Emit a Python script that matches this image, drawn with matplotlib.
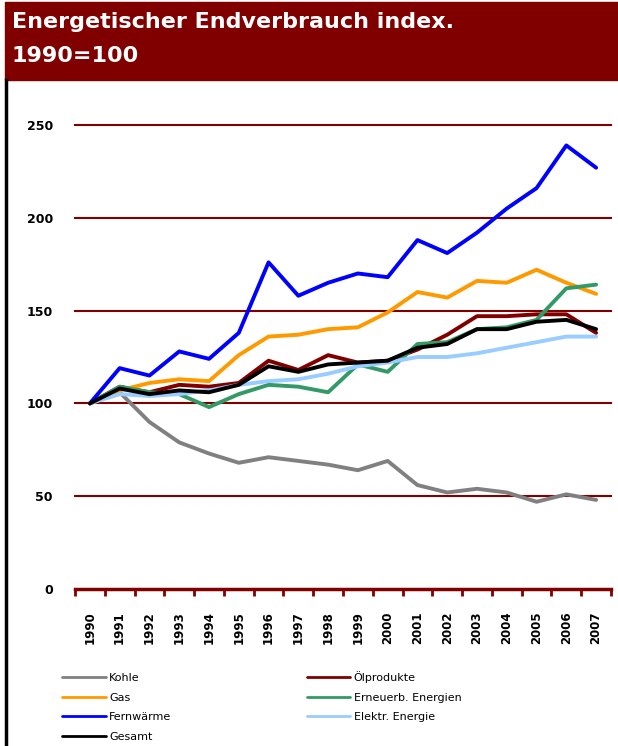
import matplotlib
matplotlib.use('Agg')
import matplotlib.pyplot as plt
from matplotlib.lines import Line2D
from matplotlib.patches import Rectangle

years = list(range(1990, 2008))

kohle = [100, 106, 90, 79, 73, 68, 71, 69, 67, 64, 69, 56, 52, 54, 52, 47, 51, 48]
oel = [100, 109, 106, 110, 109, 111, 123, 118, 126, 122, 123, 129, 137, 147, 147, 148, 148, 138]
gas = [100, 107, 111, 113, 112, 126, 136, 137, 140, 141, 149, 160, 157, 166, 165, 172, 165, 159]
erneuerb = [100, 109, 106, 105, 98, 105, 110, 109, 106, 121, 117, 132, 133, 140, 141, 145, 162, 164]
fernwaerme = [100, 119, 115, 128, 124, 138, 176, 158, 165, 170, 168, 188, 181, 192, 205, 216, 239, 227]
elektr = [100, 105, 104, 105, 107, 110, 112, 113, 116, 120, 122, 125, 125, 127, 130, 133, 136, 136]
gesamt = [100, 108, 105, 107, 106, 110, 120, 117, 121, 122, 123, 130, 132, 140, 140, 144, 145, 140]

labels = ['Kohle', 'Ölprodukte', 'Gas', 'Erneuerb. Energien',
          'Fernwärme', 'Elektr. Energie', 'Gesamt']
colors = ['#808080', '#800000', '#FF9900', '#339966',
          '#0000FF', '#99CCFF', '#000000']
series = [kohle, oel, gas, erneuerb, fernwaerme, elektr, gesamt]

darkred = '#800000'

fig = plt.figure(figsize=(6.18, 7.46), dpi=100)

# title band
fig.patches.append(Rectangle((5 / 618, 1 - 80 / 746), 613 / 618, 78 / 746,
                             transform=fig.transFigure, color=darkred, zorder=0))
fig.text(12 / 618, 1 - 22 / 746, 'Energetischer Endverbrauch index.',
         color='white', fontsize=16, fontweight='bold', va='center', ha='left')
fig.text(12 / 618, 1 - 56 / 746, '1990=100',
         color='white', fontsize=16, fontweight='bold', va='center', ha='left')
# left border
fig.add_artist(Line2D([5.5 / 618, 5.5 / 618], [0, 1 - 80 / 746],
                      transform=fig.transFigure, color='black', lw=2.5))

ax = fig.add_axes([75 / 618, 157 / 746, 536 / 618, 464 / 746])

handles = {}
for lab, col, vals in zip(labels, colors, series):
    h, = ax.plot(years, vals, color=col, lw=2.8, label=lab,
                 solid_joinstyle='round', solid_capstyle='round')
    handles[lab] = h

ax.set_xlim(1989.5, 2007.5)
ax.set_ylim(0, 250)
ax.set_yticks([0, 50, 100, 150, 200, 250])
ax.set_yticklabels(['0', '50', '100', '150', '200', '250'],
                   fontsize=9, fontweight='bold')
ax.set_xticks(years)
ax.set_xticklabels([str(y) for y in years], rotation=90,
                   fontsize=8.5, fontweight='bold')
ax.set_xticks([y - 0.5 for y in years] + [2007.5], minor=True)
ax.tick_params(axis='x', which='major', length=0, pad=16)
ax.tick_params(axis='x', which='minor', length=5, width=2, color=darkred,
               direction='out')
ax.tick_params(axis='y', length=0, pad=16)

for v in [50, 100, 150, 200, 250]:
    ax.axhline(v, color=darkred, lw=1.5, zorder=0, clip_on=False)

for s in ['top', 'right', 'left']:
    ax.spines[s].set_visible(False)
ax.spines['bottom'].set_color(darkred)
ax.spines['bottom'].set_linewidth(2.5)

order = ['Kohle', 'Gas', 'Fernwärme', 'Gesamt',
         'Ölprodukte', 'Erneuerb. Energien', 'Elektr. Energie']
leg = fig.legend([handles[k] for k in order], order, ncol=2,
                 loc='upper left', bbox_to_anchor=(58 / 618, 1 - 667 / 746),
                 frameon=False, fontsize=8, handlelength=3.9,
                 handletextpad=0.3, labelspacing=0.85, columnspacing=12.2,
                 borderaxespad=0)
for line in leg.get_lines():
    line.set_linewidth(2)

fig.savefig('out.png', dpi=100)
